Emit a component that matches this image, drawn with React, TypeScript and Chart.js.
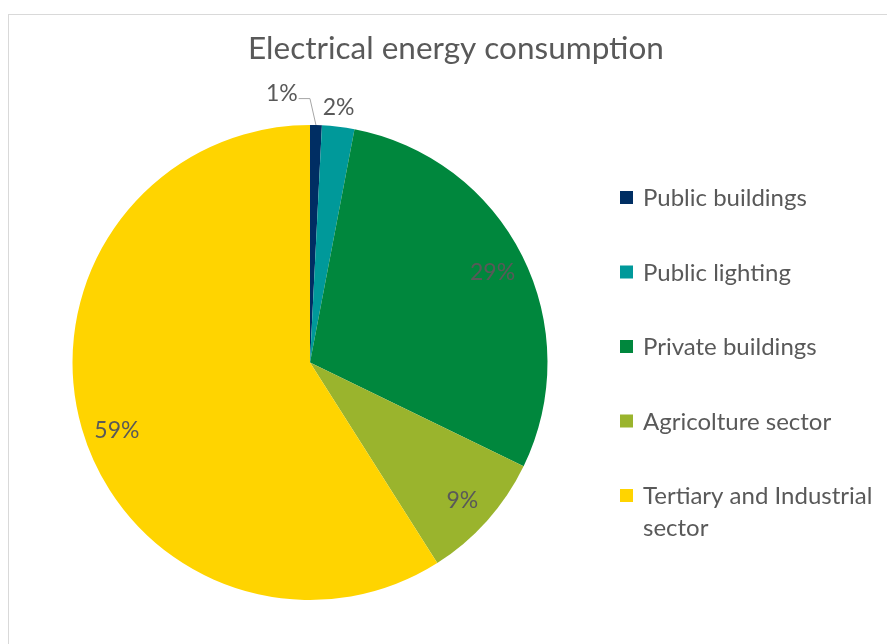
import React, { useEffect, useRef } from "react";
import { Chart, registerables } from "chart.js";

Chart.register(...registerables);

const titleText = "Electrical energy consumption";
const categories = [
  "Public buildings",
  "Public lighting",
  "Private buildings",
  "Agricolture sector",
  "Tertiary and Industrial sector",
];
const legendLines = [
  ["Public buildings"],
  ["Public lighting"],
  ["Private buildings"],
  ["Agricolture sector"],
  ["Tertiary and Industrial", "sector"],
];
const values = [0.8, 2.2, 29.2, 8.8, 59.0];
const colors = ["#002E63", "#00999A", "#00873D", "#9AB42D", "#FFD400"];

const FONT = "Lato";
const TEXT_COLOR = "#595959";

const decorPlugin = {
  id: "decor",
  beforeDraw(chart: any) {
    const ctx = chart.ctx;
    ctx.save();
    ctx.strokeStyle = "#d9d9d9";
    ctx.lineWidth = 1;
    ctx.strokeRect(8.5, 14.5, 900, 700);
    ctx.font = `31.5px ${FONT}`;
    ctx.fillStyle = TEXT_COLOR;
    ctx.textAlign = "center";
    ctx.textBaseline = "middle";
    ctx.fillText(titleText, 456, 49);
    ctx.restore();
  },
  afterDatasetsDraw(chart: any) {
    const ctx = chart.ctx;
    const meta = chart.getDatasetMeta(0);
    const data = chart.data.datasets[0].data as number[];
    const total = data.reduce((a, b) => a + b, 0);
    ctx.save();
    ctx.font = `23px ${FONT}`;
    ctx.fillStyle = TEXT_COLOR;
    ctx.textAlign = "center";
    ctx.textBaseline = "middle";
    meta.data.forEach((arc: any, i: number) => {
      const p = arc.getProps(["x", "y", "startAngle", "endAngle", "outerRadius"], true);
      const mid = (p.startAngle + p.endAngle) / 2;
      const pct = (data[i] / total) * 100;
      const label = Math.round(pct) + "%";
      let lx: number, ly: number;
      if (pct >= 5) {
        const r = p.outerRadius * 0.86;
        lx = p.x + Math.cos(mid) * r;
        ly = p.y + Math.sin(mid) * r + 2;
        if (pct > 50) {
          ly += 9;
          lx += 3;
        }
      } else if (i === 0) {
        const r = p.outerRadius + 32;
        lx = p.x + Math.cos(mid) * r - 35;
        ly = p.y + Math.sin(mid) * r;
        const w = ctx.measureText(label).width;
        const ax = p.x + Math.cos(mid) * p.outerRadius;
        const ay = p.y + Math.sin(mid) * p.outerRadius;
        ctx.save();
        ctx.strokeStyle = "#a6a6a6";
        ctx.lineWidth = 1;
        ctx.beginPath();
        ctx.moveTo(lx + w / 2 + 1, ly + 5.5);
        ctx.lineTo(ax - 6, ly + 5.5);
        ctx.lineTo(ax, ay);
        ctx.stroke();
        ctx.restore();
      } else {
        const r = p.outerRadius + 20;
        lx = p.x + Math.cos(mid) * r - 2;
        ly = p.y + Math.sin(mid) * r + 1;
      }
      ctx.fillText(label, lx, ly);
    });
    ctx.restore();
  },
  afterDraw(chart: any) {
    const ctx = chart.ctx;
    const meta = chart.getDatasetMeta(0);
    ctx.save();
    ctx.font = `24px ${FONT}`;
    ctx.textAlign = "left";
    ctx.textBaseline = "middle";
    const boxX = 620;
    const textX = 643;
    const y0 = 197.5;
    const step = 74.5;
    const lineH = 32;
    legendLines.forEach((lines, i) => {
      const y = y0 + i * step;
      const bg = meta.data[i].options.backgroundColor;
      ctx.fillStyle = bg;
      ctx.fillRect(boxX, y - 6.5, 13, 13);
      ctx.fillStyle = TEXT_COLOR;
      lines.forEach((t, j) => ctx.fillText(t, textX, y + 1 + j * lineH));
    });
    ctx.restore();
  },
};

export default function App() {
  const ref = useRef<HTMLCanvasElement | null>(null);
  useEffect(() => {
    if (!ref.current) return;
    const chart = new Chart(ref.current, {
      type: "pie",
      data: {
        labels: categories,
        datasets: [
          {
            data: values,
            backgroundColor: colors,
            borderWidth: 0,
          },
        ],
      },
      options: {
        responsive: false,
        animation: false,
        devicePixelRatio: 1,
        events: [],
        layout: { padding: { left: 72.5, right: 339.5, top: 125, bottom: 44 } },
        plugins: {
          legend: { display: false },
          tooltip: { enabled: false },
          title: { display: false },
        },
      },
      plugins: [decorPlugin],
    });
    return () => chart.destroy();
  }, []);
  return (
    <div style={{ position: "absolute", left: 0, top: 0, width: 887, height: 644, background: "#fff" }}>
      <canvas ref={ref} width={887} height={644} style={{ display: "block", width: 887, height: 644 }} />
    </div>
  );
}
